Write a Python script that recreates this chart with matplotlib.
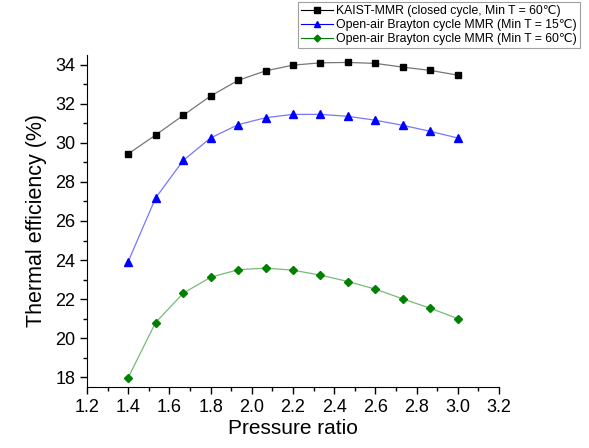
import numpy as np
import matplotlib
matplotlib.use('Agg')
import matplotlib.pyplot as plt
from matplotlib.ticker import MultipleLocator

plt.rcParams['font.family'] = ['Liberation Sans', 'DejaVu Sans']

# Datos
pressure_ratio = [1.4, 1.533, 1.667, 1.8, 1.933, 2.067, 2.2, 2.333, 2.467, 2.6, 2.733, 2.867, 3.0]
kaist_mmr = [29.44, 30.40, 31.41, 32.40, 33.20, 33.69, 33.98, 34.10, 34.12, 34.07, 33.88, 33.71, 33.47]
open_air_15 = [23.92, 27.18, 29.10, 30.25, 30.93, 31.29, 31.46, 31.46, 31.36, 31.16, 30.90, 30.59, 30.25]
open_air_60 = [17.98, 20.80, 22.30, 23.12, 23.50, 23.59, 23.48, 23.23, 22.90, 22.51, 22.01, 21.53, 21.00]

labels = ['KAIST-MMR (closed cycle, Min T = 60\u2103)',
          'Open-air Brayton cycle MMR (Min T = 15\u2103)',
          'Open-air Brayton cycle MMR (Min T = 60\u2103)']

fig = plt.figure(figsize=(5.89, 4.48), dpi=100)
ax = fig.add_axes([0.1477, 0.1362, 0.6995, 0.7410])

ax.plot(pressure_ratio, kaist_mmr, '-', color='#777777', lw=0.9)
ax.plot(pressure_ratio, open_air_15, '-', color='#7777ff', lw=0.9)
ax.plot(pressure_ratio, open_air_60, '-', color='#77bb77', lw=0.9)
ax.plot(pressure_ratio, kaist_mmr, 's', color='black', ms=5, ls='none')
ax.plot(pressure_ratio, open_air_15, '^', color='#0000ff', ms=6, ls='none')
ax.plot(pressure_ratio, open_air_60, 'D', color='#008000', ms=4.5, ls='none')

# Handles de la leyenda
h1, = ax.plot([], [], '-s', color='black', lw=0.8, ms=4)
h2, = ax.plot([], [], '-^', color='#0000ff', lw=0.8, ms=4.5)
h3, = ax.plot([], [], '-D', color='#008000', lw=0.8, ms=3.5)

ax.set_xlim(1.2, 3.2)
ax.set_ylim(17.5, 34.5)
ax.xaxis.set_minor_locator(MultipleLocator(0.1))
ax.yaxis.set_major_locator(MultipleLocator(2))
ax.yaxis.set_minor_locator(MultipleLocator(1))
ax.set_xticks(np.arange(1.2, 3.21, 0.2))
ax.set_xticklabels([f'{v:.1f}' for v in np.arange(1.2, 3.21, 0.2)])

ax.spines['top'].set_visible(False)
ax.spines['right'].set_visible(False)
ax.tick_params(which='major', direction='out', length=5, width=1, labelsize=13)
ax.tick_params(which='minor', direction='out', length=3, width=1)

ax.set_xlabel('Pressure ratio', fontsize=15, labelpad=2)
ax.set_ylabel('Thermal efficiency (%)', fontsize=15.5, labelpad=6)

leg = fig.legend([h1, h2, h3], labels, loc='upper right', bbox_to_anchor=(0.985, 0.995),
                 fontsize=8.8, frameon=True, fancybox=False, edgecolor='#888888',
                 handlelength=2.6, handletextpad=0.3, borderpad=0.25, labelspacing=0.15,
                 borderaxespad=0)
leg.get_frame().set_linewidth(0.8)

plt.savefig('out.png', dpi=100)
